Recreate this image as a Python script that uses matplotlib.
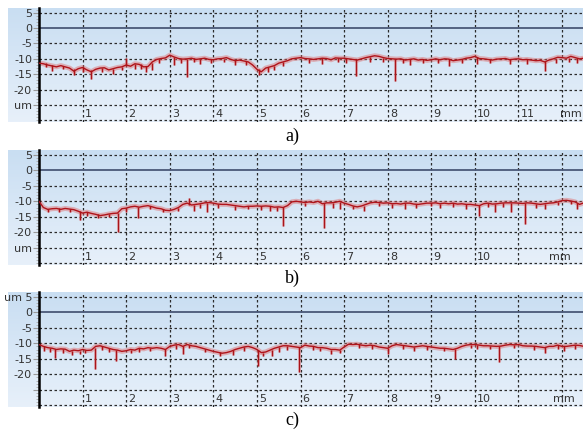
import numpy as np
import matplotlib
matplotlib.use("Agg")
import matplotlib.pyplot as plt

profile_a = [
    -11.4, -11.6, -12.0, -12.3, -12.6, -12.2, -12.6, -13.0, -14.0, -13.2,
    -12.8, -13.6, -14.2, -13.4, -13.0, -12.9, -13.6, -13.2, -12.8, -12.6,
    -12.0, -12.4, -11.6, -11.8, -12.6, -12.5, -11.0, -10.2, -9.9, -9.7,
    -8.8, -9.4, -9.9, -10.1, -10.0, -9.8, -10.2, -10.0, -9.8, -10.2,
    -10.3, -10.0, -9.9, -9.6, -10.2, -10.6, -10.4, -10.7, -11.0, -12.0,
    -13.4, -14.2, -13.0, -12.6, -12.2, -11.4, -11.0, -10.6, -10.0, -9.8,
    -9.6, -9.9, -10.0, -10.2, -10.0, -9.8, -9.9, -10.3, -9.7, -9.8,
    -9.8, -10.0, -10.2, -10.4, -10.0, -9.6, -9.3, -9.0, -9.2, -9.6,
    -9.9, -10.0, -10.1, -10.0, -10.4, -10.2, -10.0, -10.4, -10.2, -10.5,
    -10.3, -10.0, -10.3, -10.0, -10.1, -10.6, -10.4, -10.2, -9.8, -9.6,
    -9.2, -9.9, -10.0, -10.2, -10.4, -10.1, -10.0, -9.9, -10.3, -10.1,
    -10.0, -10.3, -10.2, -10.4, -10.6, -10.5, -11.0, -10.4, -10.0, -9.5,
    -9.6, -9.8, -9.2, -9.6, -10.0, -9.8,
]
profile_b = [
    -10.0, -12.0, -12.6, -12.4, -12.3, -12.6, -12.3, -12.5, -12.7, -13.2,
    -13.8, -13.5, -13.9, -14.2, -14.6, -14.4, -14.1, -13.9, -13.8, -12.4,
    -12.2, -11.8, -11.6, -11.9, -11.6, -11.4, -11.8, -12.2, -12.4, -12.9,
    -13.0, -12.6, -12.0, -11.0, -10.6, -11.2, -11.0, -10.8, -10.5, -10.4,
    -10.6, -10.9, -11.0, -11.0, -11.2, -11.4, -11.6, -11.8, -11.6, -11.6,
    -11.5, -11.6, -11.5, -11.6, -11.9, -11.8, -12.0, -11.4, -10.2, -10.0,
    -10.2, -10.4, -10.2, -10.4, -10.0, -10.8, -10.5, -10.5, -10.3, -10.0,
    -10.6, -11.0, -11.5, -11.8, -11.5, -11.0, -10.5, -10.3, -10.4, -10.6,
    -10.5, -10.8, -10.7, -10.9, -10.6, -10.6, -10.9, -11.0, -10.8, -10.6,
    -10.6, -10.5, -10.8, -10.6, -10.8, -10.6, -10.9, -10.8, -11.0, -11.0,
    -11.2, -11.4, -10.8, -10.6, -10.9, -10.8, -10.6, -10.5, -10.5, -10.5,
    -10.6, -10.7, -10.5, -10.6, -10.8, -11.0, -10.8, -10.6, -10.5, -10.2,
    -9.8, -9.7, -9.9, -10.2, -11.0, -10.5,
]
profile_c = [
    -10.4, -11.0, -11.4, -11.6, -12.0, -11.8, -11.9, -12.6, -12.2, -12.4,
    -12.0, -12.3, -12.2, -11.0, -10.8, -11.2, -11.6, -12.0, -12.2, -12.6,
    -12.4, -12.0, -12.2, -11.6, -11.8, -11.4, -11.6, -11.4, -11.6, -12.0,
    -11.0, -10.6, -10.4, -11.0, -10.4, -10.8, -11.0, -11.4, -11.8, -12.2,
    -12.6, -12.9, -13.2, -13.0, -12.6, -12.0, -11.6, -11.2, -11.0, -11.4,
    -12.0, -13.0, -12.8, -12.2, -11.6, -11.2, -10.8, -10.8, -11.0, -11.2,
    -11.4, -10.6, -10.9, -11.0, -11.4, -11.4, -11.6, -12.0, -12.0, -12.2,
    -11.2, -10.3, -10.4, -10.3, -10.6, -10.8, -10.6, -10.8, -11.2, -11.4,
    -11.6, -10.8, -10.4, -10.6, -10.8, -11.0, -11.2, -11.0, -10.8, -11.0,
    -11.2, -11.4, -11.6, -11.6, -11.8, -12.0, -11.6, -11.0, -10.6, -10.4,
    -10.4, -10.6, -10.8, -10.8, -10.9, -11.0, -10.9, -10.6, -10.4, -10.5,
    -10.4, -10.8, -10.9, -10.9, -11.0, -11.2, -11.4, -11.0, -11.0, -10.6,
    -11.0, -11.0, -10.8, -10.6, -10.7, -11.0,
]

# narrow spikes: position (mm), level at the line, tip of the spike (um)
spike_x_a = [0.3, 0.8, 1.2, 1.7, 2.0, 2.2, 2.45, 2.6, 3.1, 3.4, 3.7, 4.5,
             5.05, 5.25, 6.5, 7.27, 7.6, 8.17, 8.5, 9.4, 10.05, 10.8, 11.6, 12.35,
             0.15, 0.55, 1.0, 1.45, 1.9, 2.35, 2.75, 3.25, 3.55, 3.95, 4.25, 4.75,
             5.4, 5.6, 6.2, 6.85, 7.05, 7.9, 8.35, 8.8, 9.15, 9.7, 10.35, 11.2,
             11.85, 12.15]
spike_top_a = [-12.0, -13.2, -13.6, -13.2, -9.8, -11.6, -12.4, -11.2, -9.4, -10.0, -10.0, -10.4,
               -13.2, -12.8, -9.8, -10.2, -9.3, -10.0, -10.2, -10.1, -9.4, -10.2, -10.8, -9.6,
               -11.5, -12.2, -12.8, -13.0, -12.6, -11.8, -10.2, -9.9, -9.8, -10.2, -9.9, -10.7,
               -12.2, -11.0, -10.0, -9.7, -9.8, -9.6, -10.0, -10.2, -10.0, -10.2, -10.2, -10.2,
               -10.0, -9.8]
spike_tip_a = [-13.8, -15.2, -16.4, -14.8, -12.4, -13.4, -14.2, -13.6, -12.0, -15.8, -11.6, -12.0,
               -15.2, -14.4, -11.6, -15.6, -11.0, -17.3, -12.0, -12.2, -11.8, -11.8, -14.0, -11.4,
               -12.8, -13.4, -14.2, -14.4, -13.6, -13.2, -11.4, -11.2, -11.0, -11.2, -11.0, -12.0,
               -13.6, -12.2, -11.2, -11.0, -11.4, -11.0, -11.4, -11.4, -11.2, -11.4, -11.4, -11.6,
               -11.2, -11.0]

spike_x_b = [0.93, 1.82, 2.27, 3.44, 3.55, 3.85, 4.5, 5.3, 5.6, 6.54, 6.9,
             7.45, 8.1, 8.4, 9.2, 9.8, 10.1, 10.45, 10.82, 11.16, 11.6, 12.35,
             0.2, 0.45, 0.7, 1.1, 1.35, 1.6, 2.0, 2.55, 2.85, 3.2, 3.7, 4.1,
             4.8, 5.1, 5.45, 6.1, 6.75, 7.2, 7.8, 8.65, 9.0, 9.5, 10.3, 10.65,
             11.4, 11.9, 12.2]
spike_top_b = [-13.2, -13.8, -11.8, -9.0, -11.2, -10.5, -11.4, -11.6, -11.9, -10.6, -10.1,
               -11.5, -10.8, -10.7, -10.8, -11.0, -11.3, -10.9, -10.5, -10.6, -10.8, -10.5,
               -12.6, -12.3, -12.5, -13.5, -14.2, -14.1, -12.2, -11.4, -12.4, -12.0, -10.8, -10.9,
               -11.6, -11.6, -11.8, -10.4, -10.5, -11.5, -10.4, -10.9, -10.6, -10.6, -10.6, -10.6,
               -10.8, -10.2, -9.9]
spike_tip_b = [-16.0, -19.8, -15.4, -11.2, -13.2, -13.5, -12.8, -13.0, -17.8, -18.6, -12.6,
               -13.0, -12.2, -12.6, -12.2, -12.5, -14.8, -13.5, -13.4, -17.3, -12.4, -12.6,
               -13.6, -13.4, -13.6, -14.8, -15.4, -15.2, -13.4, -12.6, -13.4, -13.0, -12.2, -12.0,
               -12.6, -12.8, -13.0, -11.6, -12.0, -12.6, -11.4, -12.0, -11.6, -11.8, -11.8, -11.8,
               -12.0, -11.2, -11.0]

spike_x_c = [0.12, 0.37, 0.75, 1.28, 1.76, 2.1, 2.9, 3.3, 4.45, 5.02, 5.35,
             5.5, 5.96, 6.28, 6.7, 8.0, 8.6, 9.55, 10.05, 10.55, 11.6, 12.05,
             0.25, 0.55, 0.95, 1.05, 1.45, 1.6, 2.3, 2.55, 3.15, 3.45, 3.8, 4.15,
             4.7, 5.15, 5.7, 6.45, 6.9, 7.35, 7.65, 8.35, 8.9, 9.3, 9.9, 10.35,
             10.9, 11.35, 11.9, 12.3]
spike_top_c = [-11.0, -11.8, -12.4, -11.6, -12.1, -12.0, -11.8, -10.8, -12.3, -12.0, -12.2,
               -11.2, -11.2, -11.0, -12.0, -11.4, -11.2, -11.9, -10.4, -10.9, -11.3, -11.0,
               -11.4, -11.8, -12.4, -12.0, -10.8, -11.6, -11.6, -11.4, -10.6, -10.4, -11.8, -12.9,
               -11.2, -13.0, -10.8, -11.4, -12.2, -10.3, -10.6, -10.6, -11.0, -11.6, -10.4, -10.8,
               -10.5, -10.9, -10.6, -10.6]
spike_tip_c = [-12.6, -14.7, -13.8, -18.2, -15.8, -13.2, -14.0, -13.5, -13.8, -17.2, -14.2,
               -12.8, -19.2, -12.2, -13.5, -13.6, -12.4, -15.0, -11.8, -16.0, -13.0, -12.6,
               -12.8, -13.0, -13.6, -13.2, -12.0, -12.8, -12.8, -12.6, -11.8, -11.6, -12.8, -14.0,
               -12.4, -14.2, -12.0, -12.6, -13.2, -11.4, -11.8, -11.8, -12.2, -12.6, -11.4, -11.8,
               -11.6, -12.0, -11.8, -11.8]

ytick_vals = [5, 0, -5, -10, -15, -20, -25]
ylabels_ab = ["5", "0", "-5", "-10", "-15", "-20", "um"]
ylabels_c = ["um 5", "0", "-5", "-10", "-15", "-20", ""]
xlabels_a = ["1", "2", "3", "4", "5", "6", "7", "8", "9", "10", "11"]
xlabels_bc = ["1", "2", "3", "4", "5", "6", "7", "8", "9", "10"]
captions = ["a)", "b)", "c)"]

W, H = 583, 432
fig = plt.figure(figsize=(W / 100, H / 100), dpi=100)

# panel pixel boxes: (top, bottom)
boxes = [(8, 122), (150, 265), (292, 407)]
mm_pos = [11.95, 11.7, 11.8]
cap_y = [136, 278, 420]

panels = [
    (profile_a, spike_x_a, spike_top_a, spike_tip_a, ylabels_ab, xlabels_a),
    (profile_b, spike_x_b, spike_top_b, spike_tip_b, ylabels_ab, xlabels_bc),
    (profile_c, spike_x_c, spike_top_c, spike_tip_c, ylabels_c, xlabels_bc),
]

grad = np.linspace(0, 1, 64).reshape(-1, 1)
cmap = matplotlib.colors.LinearSegmentedColormap.from_list(
    "bg", ["#c9def2", "#e7f0fa"])

for i, (prof, sx, stop, stip, ylab, xlab) in enumerate(panels):
    top, bot = boxes[i]
    # background gradient (includes the left label strip)
    bg = fig.add_axes([8 / W, 1 - bot / H, (W - 8) / W, (bot - top) / H])
    bg.imshow(grad, aspect="auto", cmap=cmap, extent=[0, 1, 0, 1])
    bg.set_axis_off()

    ax = fig.add_axes([39 / W, 1 - bot / H, (W - 39) / W, (bot - top) / H])
    ax.patch.set_alpha(0)
    ax.set_xlim(0, 12.48)
    ax.set_ylim(-30.5, 6.5)

    for g in [5, -5, -10, -15, -20, -25, -30]:
        ax.axhline(g, color="#2b2b2b", lw=0.9, ls=(0, (2, 2)), zorder=1)
    for g in range(1, 13):
        ax.axvline(g, color="#2b2b2b", lw=0.9, ls=(0, (2, 2)), zorder=1)
    ax.axhline(0, color="#4a5878", lw=1.3, zorder=1)

    x = np.arange(len(prof)) * 0.1
    ax.plot(x, prof, color="#e06a6a", lw=3.6, alpha=0.45, zorder=2)
    ax.vlines(sx, stip, stop, color="#e06a6a", lw=2.2, alpha=0.45, zorder=2)
    ax.plot(x, prof, color="#b0141b", lw=1.0, zorder=3)
    ax.vlines(sx, stip, stop, color="#a8141a", lw=0.9, zorder=3)

    for k, lab in enumerate(xlab):
        ax.text(k + 1.05, -27.9, lab, fontsize=8, color="#333333",
                ha="left", va="center")
    ax.text(mm_pos[i], -27.9, "mm", fontsize=8, color="#333333",
            ha="left", va="center")

    ax.set_yticks(ytick_vals)
    ax.set_yticklabels(ylab)
    ax.set_yticks(np.arange(-30, 7, 1), minor=True)
    ax.tick_params(axis="y", which="major", labelsize=8, labelcolor="#333333",
                   length=4, color="#999999", pad=1)
    ax.tick_params(axis="y", which="minor", length=2.5, color="#aaaaaa", width=0.6)
    ax.set_xticks([])
    for s in ["top", "right", "bottom"]:
        ax.spines[s].set_visible(False)
    ax.spines["left"].set_linewidth(1.8)
    ax.spines["left"].set_color("black")

    fig.text(292 / W, 1 - cap_y[i] / H, captions[i], fontsize=13,
             family="Liberation Serif", ha="center", va="center")

fig.savefig("out.png", dpi=100)
